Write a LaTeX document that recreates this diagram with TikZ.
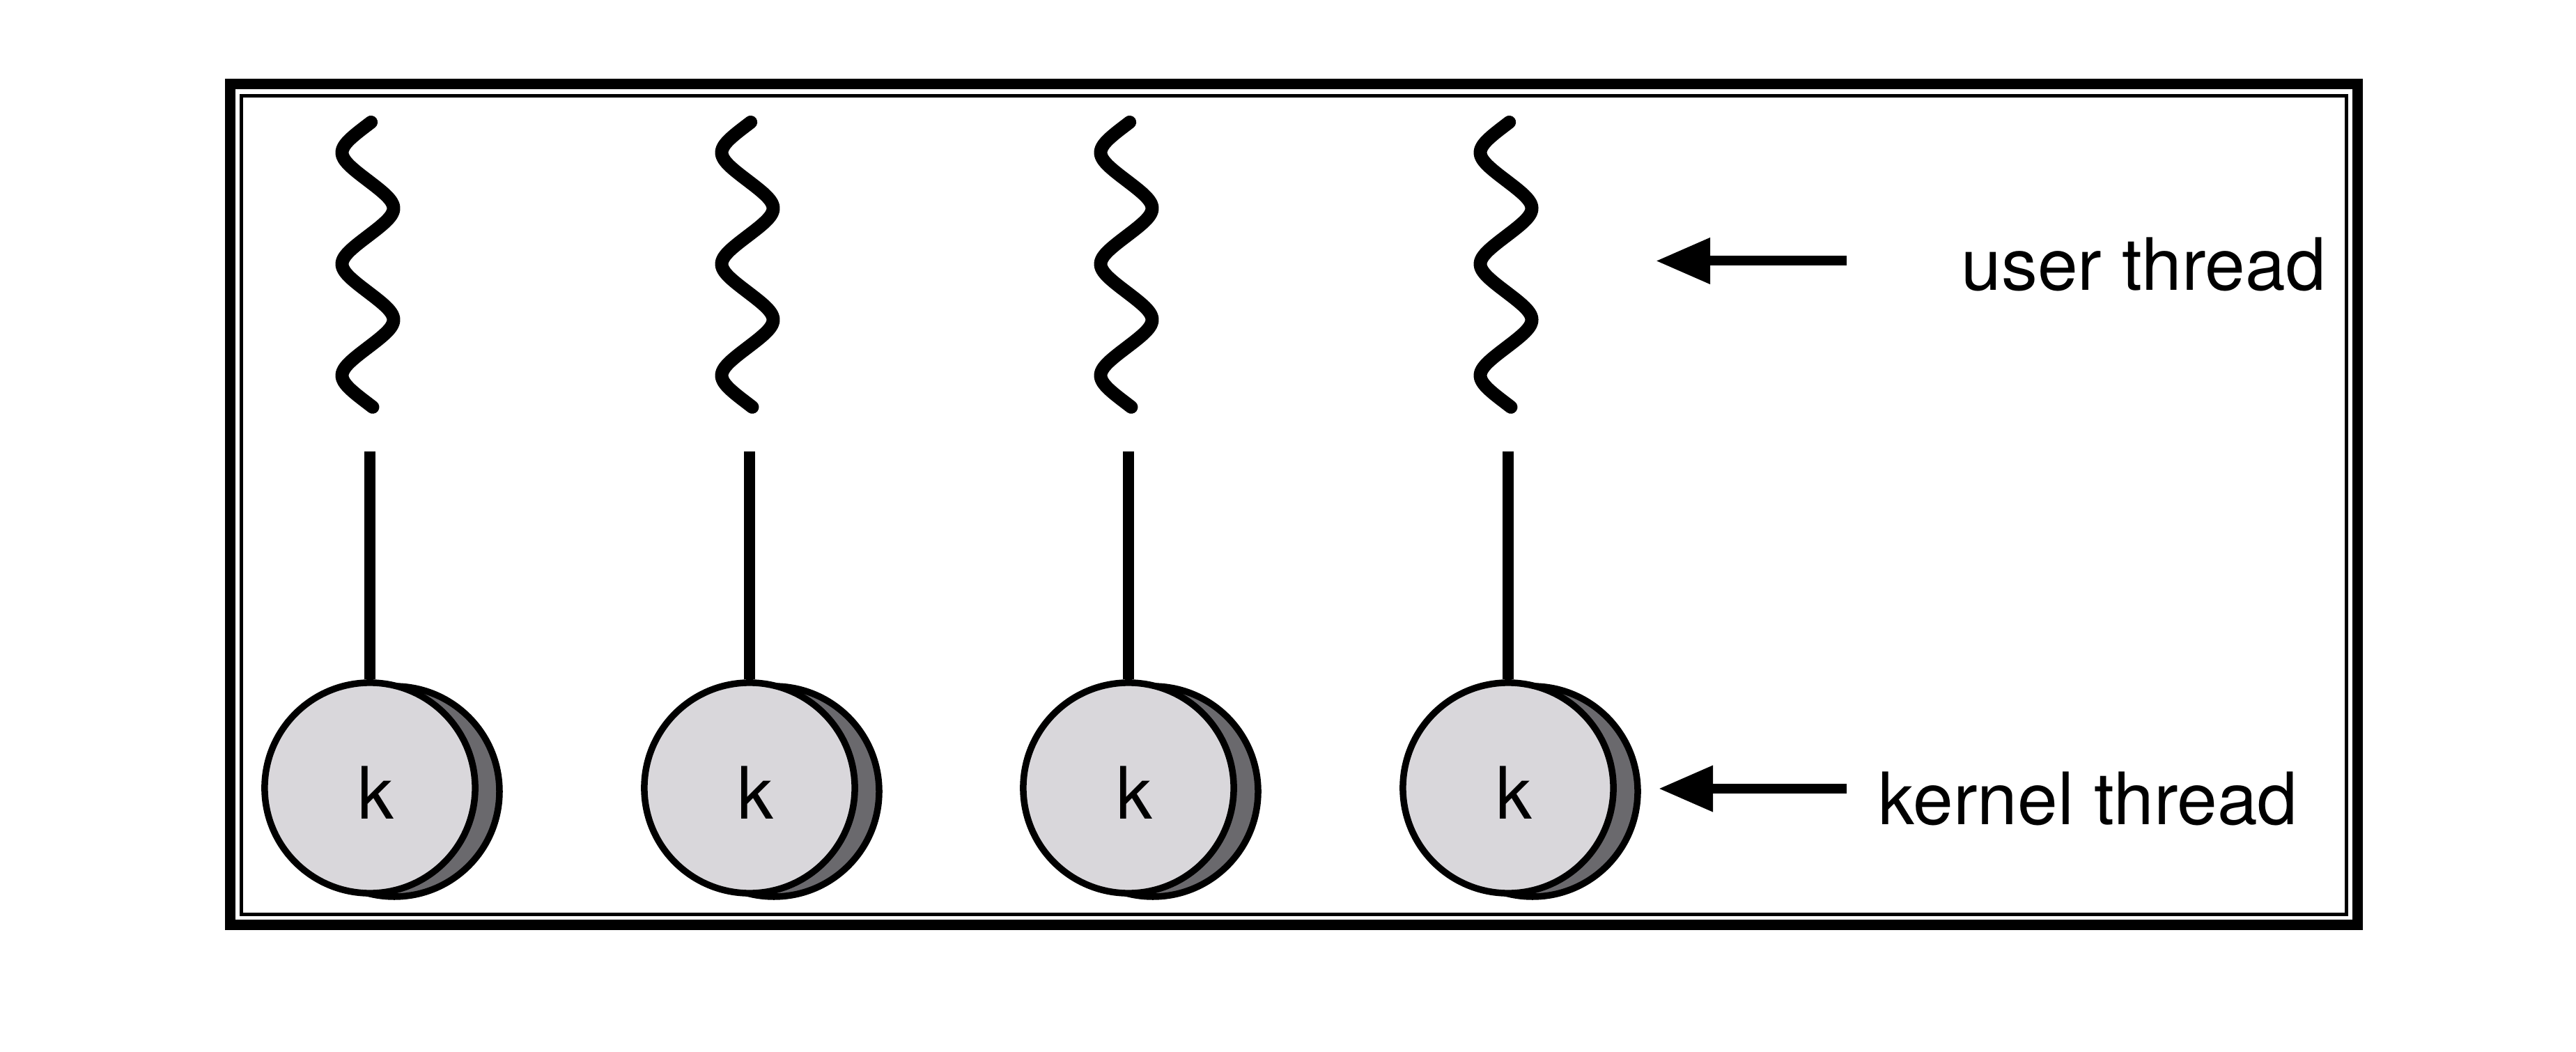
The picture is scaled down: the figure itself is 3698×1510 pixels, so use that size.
\documentclass[tikz,border=0pt]{standalone}
\usepackage{fontspec}
\setmainfont{TeX Gyre Heros}
\usepackage{tikz}
\usetikzlibrary{arrows.meta}
\definecolor{diskface}{HTML}{D9D7DB}
\definecolor{diskrim}{HTML}{6A696D}
\tikzset{
  frameout/.style={line width=0.15cm},
  framein/.style={line width=0.05cm},
  wave/.style={line width=0.19cm,line cap=round,line join=round},
  stem/.style={line width=0.16cm},
  disk/.style={circle,draw,line width=0.095cm,fill=diskface,minimum size=3.02cm,inner sep=0pt},
  rim/.style={draw,line width=0.095cm,fill=diskrim},
  ptr/.style={-{Triangle[length=0.78cm,width=0.63cm]},line width=0.14cm},
  lbl/.style={font=\fontsize{29.5}{35}\selectfont,inner sep=0pt},
}

\begin{document}
\begin{tikzpicture}[x=0.01cm,y=-0.01cm]
\useasboundingbox (0,0) rectangle (3698,1510);
% frame
\draw[frameout] (330,121) rectangle (3384.5,1327.5);
\draw[framein] (346,137.5) rectangle (3368.5,1312.5);
% threads
\foreach \n/\cx in {1/531,2/1076,3/1620,4/2165}{
  \draw[wave] plot[variable=\t,domain=-8:912,samples=161,smooth]
    ({\cx-3-37*asin(0.7*sin(\t))/asin(0.7)},{179+\t/180*80});
  \draw[rim] (\cx+35,1136) circle[radius=151];
  \node[disk] (k\n) at (\cx,1131) {};
  \node[lbl, anchor=base] (kl\n) at (\cx+8,1175) {k};
  \coordinate (st\n) at (\cx,648);
  \draw[stem] (st\n) -- (k\n.north);
}
% labels
\node[lbl, anchor=base west] (ulbl) at (2815,417) {user thread};
\node[lbl, anchor=base west] (klbl) at (2696,1183) {kernel thread};
\coordinate (ua) at (2651,374.5);
\coordinate (ut) at (2377,374.5);
\coordinate (ka) at (2651,1132);
\coordinate (kt) at (2381,1132);
\draw[ptr] (ua) -- (ut);
\draw[ptr] (ka) -- (kt);
\end{tikzpicture}
\end{document}
